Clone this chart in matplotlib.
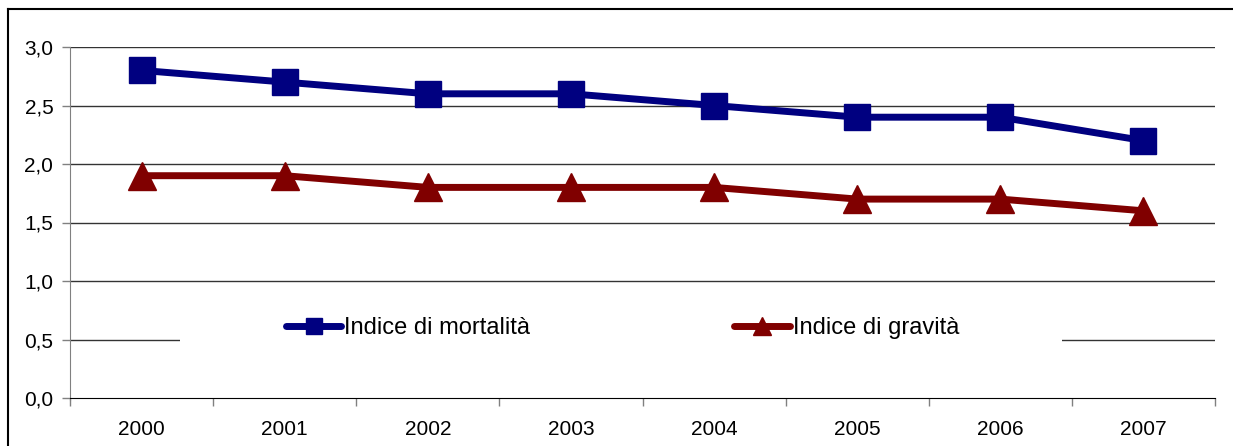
import matplotlib
matplotlib.use("Agg")
import matplotlib.pyplot as plt
from matplotlib.lines import Line2D
from matplotlib.patches import Rectangle

plt.rcParams["font.family"] = ["Liberation Sans", "DejaVu Sans"]

years = ["2000", "2001", "2002", "2003", "2004", "2005", "2006", "2007"]
mortalita = [2.8, 2.7, 2.6, 2.6, 2.5, 2.4, 2.4, 2.2]
gravita = [1.9, 1.9, 1.8, 1.8, 1.8, 1.7, 1.7, 1.6]
y_ticks = [0.0, 0.5, 1.0, 1.5, 2.0, 2.5, 3.0]
y_labels = ["0,0", "0,5", "1,0", "1,5", "2,0", "2,5", "3,0"]

W, H = 1233, 446
fig = plt.figure(figsize=(W / 100, H / 100), dpi=100)

# outer frame of the chart area (only top and left edges are visible)
fig.add_artist(Line2D([8 / W, 1.0], [1 - 9 / H, 1 - 9 / H],
                      transform=fig.transFigure, color="black", linewidth=1.5))
fig.add_artist(Line2D([8 / W, 8 / W], [0.0, 1 - 9 / H],
                      transform=fig.transFigure, color="black", linewidth=1.5))

ax = fig.add_axes([70 / W, 1 - 398 / H, 1145 / W, 351 / H])

x = list(range(len(years)))

ax.plot(x, mortalita, color="#000080", linewidth=5, solid_capstyle="round",
        marker="s", markersize=19, label="Indice di mortalità", zorder=5)
ax.plot(x, gravita, color="#800000", linewidth=5, solid_capstyle="round",
        marker="^", markersize=19.5, label="Indice di gravità", zorder=5)

ax.set_xlim(-0.5, len(years) - 0.5)
ax.set_ylim(0, 3.0)

ax.set_yticks(y_ticks)
ax.set_yticklabels(y_labels)
ax.set_xticks(x)
ax.set_xticklabels(years)
ax.set_xticks([i - 0.5 for i in range(len(years) + 1)], minor=True)

ax.tick_params(axis="y", direction="out", length=6, width=1,
               color="#808080", labelsize=15, pad=6)
ax.tick_params(axis="x", which="major", length=0, labelsize=15, pad=16)
ax.tick_params(axis="x", which="minor", direction="out", length=6,
               width=1, color="#808080")

for v in y_ticks[1:]:
    ax.axhline(v, color="#333333", linewidth=1, zorder=1)

for side in ["top", "right"]:
    ax.spines[side].set_visible(False)
ax.spines["left"].set_color("#808080")
ax.spines["left"].set_bounds(-0.02, 3.0)
ax.spines["bottom"].set_color("black")

# white box behind the legend
ax.add_patch(
    Rectangle((0.096, 0.12), 0.77, 0.15, transform=ax.transAxes,
              facecolor="white", edgecolor="none", zorder=3)
)

leg = ax.legend(loc="center", bbox_to_anchor=(0.4825, 0.2), ncol=2,
                frameon=False, fontsize=17, handlelength=2.35,
                handletextpad=0.12, columnspacing=8.65, markerscale=0.63)
leg.set_zorder(6)

fig.savefig("out.png", dpi=100)
